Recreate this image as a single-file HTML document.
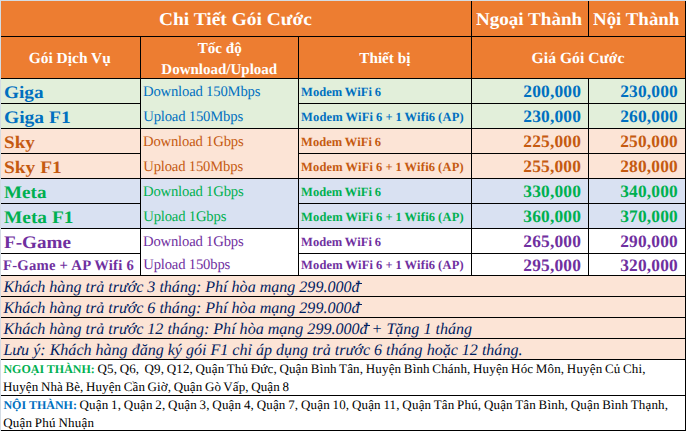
<!DOCTYPE html><html><head><meta charset="utf-8"><title>Bảng giá</title><style>
html,body{margin:0;padding:0;background:#fff}body{width:686px;height:431px;position:relative;overflow:hidden;font-family:'Liberation Serif','Times New Roman',serif;text-rendering:geometricPrecision}
.r{position:absolute}.t{position:absolute;white-space:nowrap;line-height:40px;height:40px}
</style></head><body>
<div class="r" style="left:0px;top:0px;width:686px;height:1px;background:#D4DCE4"></div>
<div class="r" style="left:0px;top:0px;width:1px;height:431px;background:#D4DCE4"></div>
<div class="r" style="left:1px;top:1px;width:684px;height:77px;background:#ED7D31"></div>
<div class="r" style="left:1px;top:79px;width:684px;height:49px;background:#E2EFDA"></div>
<div class="r" style="left:1px;top:129px;width:684px;height:49px;background:#FCE4D6"></div>
<div class="r" style="left:1px;top:179px;width:684px;height:49px;background:#D9E1F2"></div>
<div class="r" style="left:1px;top:276px;width:684px;height:83px;background:#FCE4D6"></div>
<div class="r" style="left:1px;top:36px;width:685px;height:1px;background:#000000"></div>
<div class="r" style="left:1px;top:78px;width:685px;height:1px;background:#000000"></div>
<div class="r" style="left:1px;top:103px;width:140px;height:1px;background:#000000"></div>
<div class="r" style="left:298px;top:103px;width:388px;height:1px;background:#000000"></div>
<div class="r" style="left:1px;top:128px;width:685px;height:1px;background:#000000"></div>
<div class="r" style="left:1px;top:153px;width:140px;height:1px;background:#000000"></div>
<div class="r" style="left:298px;top:153px;width:388px;height:1px;background:#000000"></div>
<div class="r" style="left:1px;top:178px;width:685px;height:1px;background:#000000"></div>
<div class="r" style="left:1px;top:203px;width:140px;height:1px;background:#000000"></div>
<div class="r" style="left:298px;top:203px;width:388px;height:1px;background:#000000"></div>
<div class="r" style="left:1px;top:228px;width:685px;height:1px;background:#000000"></div>
<div class="r" style="left:1px;top:253px;width:140px;height:1px;background:#000000"></div>
<div class="r" style="left:298px;top:253px;width:388px;height:1px;background:#000000"></div>
<div class="r" style="left:1px;top:275px;width:685px;height:1px;background:#000000"></div>
<div class="r" style="left:1px;top:296px;width:685px;height:1px;background:#000000"></div>
<div class="r" style="left:1px;top:317px;width:685px;height:1px;background:#000000"></div>
<div class="r" style="left:1px;top:338px;width:685px;height:1px;background:#000000"></div>
<div class="r" style="left:1px;top:359px;width:685px;height:1px;background:#000000"></div>
<div class="r" style="left:1px;top:395px;width:685px;height:1px;background:#000000"></div>
<div class="r" style="left:1px;top:430px;width:685px;height:1px;background:#000000"></div>
<div class="r" style="left:140px;top:36px;width:1px;height:240px;background:#000000"></div>
<div class="r" style="left:298px;top:36px;width:1px;height:240px;background:#000000"></div>
<div class="r" style="left:471px;top:1px;width:1px;height:275px;background:#000000"></div>
<div class="r" style="left:588px;top:1px;width:1px;height:36px;background:#000000"></div>
<div class="r" style="left:588px;top:78px;width:1px;height:198px;background:#000000"></div>
<div class="r" style="left:685px;top:1px;width:1px;height:430px;background:#000000"></div>
<div class="t" style="left:159.38px;top:-1.00px;color:#fff;font-size:18.10px;font-weight:bold;transform:scaleX(1.0734);transform-origin:0 0;">Chi Tiết Gói Cước</div>
<div class="t" style="left:475.58px;top:-1.00px;color:#fff;font-size:18.10px;font-weight:bold;transform:scaleX(1.0539);transform-origin:0 0;">Ngoại Thành</div>
<div class="t" style="left:592.98px;top:-1.00px;color:#fff;font-size:18.10px;font-weight:bold;transform:scaleX(1.0451);transform-origin:0 0;">Nội Thành</div>
<div class="t" style="left:28.77px;top:38.60px;color:#fff;font-size:15.43px;font-weight:bold;">Gói Dịch Vụ</div>
<div class="t" style="left:197.68px;top:29.20px;color:#fff;font-size:15.12px;font-weight:bold;">Tốc độ</div>
<div class="t" style="left:161.35px;top:50.20px;color:#fff;font-size:15.01px;font-weight:bold;">Download/Upload</div>
<div class="t" style="left:359.27px;top:39.30px;color:#fff;font-size:15.23px;font-weight:bold;">Thiết bị</div>
<div class="t" style="left:531.62px;top:39.00px;color:#fff;font-size:15.67px;font-weight:bold;">Giá Gói Cước</div>
<div class="t" style="left:3.98px;top:72.00px;color:#0070C0;font-size:17.60px;font-weight:bold;transform:scaleX(1.0937);transform-origin:0 0;">Giga</div>
<div class="t" style="left:143.00px;top:72.00px;color:#0070C0;font-size:14.67px;letter-spacing:-0.180px;">Download 150Mbps</div>
<div class="t" style="left:301.02px;top:71.60px;color:#0070C0;font-size:12.50px;font-weight:bold;letter-spacing:0.073px;word-spacing:-0.500px;">Modem WiFi 6</div>
<div class="t" style="left:523.33px;top:71.00px;color:#0070C0;font-size:17.40px;font-weight:bold;letter-spacing:0.175px;">200,000</div>
<div class="t" style="left:620.23px;top:71.00px;color:#0070C0;font-size:17.40px;font-weight:bold;letter-spacing:0.175px;">230,000</div>
<div class="t" style="left:3.92px;top:97.00px;color:#0070C0;font-size:17.60px;font-weight:bold;transform:scaleX(1.1094);transform-origin:0 0;">Giga F1</div>
<div class="t" style="left:143.25px;top:97.00px;color:#0070C0;font-size:14.67px;letter-spacing:-0.180px;">Upload 150Mbps</div>
<div class="t" style="left:301.00px;top:96.60px;color:#0070C0;font-size:12.50px;font-weight:bold;letter-spacing:0.206px;word-spacing:-0.500px;">Modem WiFi 6 + 1 Wifi6 (AP)</div>
<div class="t" style="left:523.33px;top:96.00px;color:#0070C0;font-size:17.40px;font-weight:bold;letter-spacing:0.175px;">230,000</div>
<div class="t" style="left:620.23px;top:96.00px;color:#0070C0;font-size:17.40px;font-weight:bold;letter-spacing:0.175px;">260,000</div>
<div class="t" style="left:3.93px;top:122.00px;color:#C55A11;font-size:17.60px;font-weight:bold;transform:scaleX(1.0881);transform-origin:0 0;">Sky</div>
<div class="t" style="left:143.00px;top:122.00px;color:#C55A11;font-size:14.67px;letter-spacing:-0.180px;">Download 1Gbps</div>
<div class="t" style="left:301.02px;top:121.60px;color:#C55A11;font-size:12.50px;font-weight:bold;letter-spacing:0.073px;word-spacing:-0.500px;">Modem WiFi 6</div>
<div class="t" style="left:523.33px;top:121.00px;color:#C55A11;font-size:17.40px;font-weight:bold;letter-spacing:0.175px;">225,000</div>
<div class="t" style="left:620.23px;top:121.00px;color:#C55A11;font-size:17.40px;font-weight:bold;letter-spacing:0.175px;">250,000</div>
<div class="t" style="left:3.98px;top:147.00px;color:#C55A11;font-size:17.60px;font-weight:bold;transform:scaleX(1.1050);transform-origin:0 0;">Sky F1</div>
<div class="t" style="left:143.25px;top:147.00px;color:#C55A11;font-size:14.67px;letter-spacing:-0.180px;">Upload 150Mbps</div>
<div class="t" style="left:301.00px;top:146.60px;color:#C55A11;font-size:12.50px;font-weight:bold;letter-spacing:0.206px;word-spacing:-0.500px;">Modem WiFi 6 + 1 Wifi6 (AP)</div>
<div class="t" style="left:523.33px;top:146.00px;color:#C55A11;font-size:17.40px;font-weight:bold;letter-spacing:0.175px;">255,000</div>
<div class="t" style="left:620.23px;top:146.00px;color:#C55A11;font-size:17.40px;font-weight:bold;letter-spacing:0.175px;">280,000</div>
<div class="t" style="left:4.20px;top:172.00px;color:#00B050;font-size:17.60px;font-weight:bold;transform:scaleX(1.0870);transform-origin:0 0;">Meta</div>
<div class="t" style="left:143.00px;top:172.00px;color:#00B050;font-size:14.67px;letter-spacing:-0.180px;">Download 1Gbps</div>
<div class="t" style="left:301.02px;top:171.60px;color:#00B050;font-size:12.50px;font-weight:bold;letter-spacing:0.073px;word-spacing:-0.500px;">Modem WiFi 6</div>
<div class="t" style="left:523.33px;top:171.00px;color:#00B050;font-size:17.40px;font-weight:bold;letter-spacing:0.175px;">330,000</div>
<div class="t" style="left:620.23px;top:171.00px;color:#00B050;font-size:17.40px;font-weight:bold;letter-spacing:0.175px;">340,000</div>
<div class="t" style="left:4.23px;top:197.00px;color:#00B050;font-size:17.60px;font-weight:bold;transform:scaleX(1.1020);transform-origin:0 0;">Meta F1</div>
<div class="t" style="left:143.25px;top:197.00px;color:#00B050;font-size:14.67px;letter-spacing:-0.180px;">Upload 1Gbps</div>
<div class="t" style="left:301.00px;top:196.60px;color:#00B050;font-size:12.50px;font-weight:bold;letter-spacing:0.206px;word-spacing:-0.500px;">Modem WiFi 6 + 1 Wifi6 (AP)</div>
<div class="t" style="left:523.33px;top:196.00px;color:#00B050;font-size:17.40px;font-weight:bold;letter-spacing:0.175px;">360,000</div>
<div class="t" style="left:620.23px;top:196.00px;color:#00B050;font-size:17.40px;font-weight:bold;letter-spacing:0.175px;">370,000</div>
<div class="t" style="left:4.23px;top:222.00px;color:#7030A0;font-size:17.60px;font-weight:bold;transform:scaleX(1.0872);transform-origin:0 0;">F-Game</div>
<div class="t" style="left:143.00px;top:222.00px;color:#7030A0;font-size:14.67px;letter-spacing:-0.180px;">Download 1Gbps</div>
<div class="t" style="left:301.02px;top:221.60px;color:#7030A0;font-size:12.50px;font-weight:bold;letter-spacing:0.073px;word-spacing:-0.500px;">Modem WiFi 6</div>
<div class="t" style="left:523.33px;top:221.00px;color:#7030A0;font-size:17.40px;font-weight:bold;letter-spacing:0.175px;">265,000</div>
<div class="t" style="left:620.23px;top:221.00px;color:#7030A0;font-size:17.40px;font-weight:bold;letter-spacing:0.175px;">290,000</div>
<div class="t" style="left:2.97px;top:246.00px;color:#7030A0;font-size:14.67px;font-weight:bold;letter-spacing:0.244px;">F-Game + AP Wifi 6</div>
<div class="t" style="left:143.25px;top:245.00px;color:#7030A0;font-size:14.67px;letter-spacing:-0.180px;">Upload 150bps</div>
<div class="t" style="left:301.00px;top:245.00px;color:#7030A0;font-size:12.50px;font-weight:bold;letter-spacing:0.206px;word-spacing:-0.500px;">Modem WiFi 6 + 1 Wifi6 (AP)</div>
<div class="t" style="left:523.33px;top:244.50px;color:#7030A0;font-size:17.40px;font-weight:bold;letter-spacing:0.175px;">295,000</div>
<div class="t" style="left:620.23px;top:244.50px;color:#7030A0;font-size:17.40px;font-weight:bold;letter-spacing:0.175px;">320,000</div>
<div class="t" style="left:3.45px;top:268.00px;color:#002060;font-size:16.06px;font-style:italic;">Khách hàng trả trước 3 tháng: Phí hòa mạng 299.000<span style="position:relative">đ<u style="position:absolute;left:4.0px;bottom:12.4px;width:6.2px;height:1px;background:#002060"></u></span></div>
<div class="t" style="left:3.45px;top:289.00px;color:#002060;font-size:16.06px;font-style:italic;">Khách hàng trả trước 6 tháng: Phí hòa mạng 299.000<span style="position:relative">đ<u style="position:absolute;left:4.0px;bottom:12.4px;width:6.2px;height:1px;background:#002060"></u></span></div>
<div class="t" style="left:3.45px;top:310.00px;color:#002060;font-size:16.06px;font-style:italic;">Khách hàng trả trước 12 tháng: Phí hòa mạng 299.000<span style="position:relative">đ<u style="position:absolute;left:4.0px;bottom:12.4px;width:6.2px;height:1px;background:#002060"></u></span> + Tặng 1 tháng</div>
<div class="t" style="left:3.45px;top:331.00px;color:#002060;font-size:16.06px;font-style:italic;">Lưu ý: Khách hàng đăng ký gói F1 chỉ áp dụng trả trước 6 tháng hoặc 12 tháng.</div>
<div class="t" style="left:3.40px;top:349.10px;color:#000;font-size:13.00px;letter-spacing:0.156px;word-spacing:-0.800px;"><b style="color:#00B050;font-size:12px;letter-spacing:0;word-spacing:0">NGOẠI THÀNH:</b> Q5, Q6,&nbsp; Q9, Q12, Quận Thủ Đức, Quận Bình Tân, Huyện Bình Chánh, Huyện Hóc Môn, Huyện Củ Chi,</div>
<div class="t" style="left:3.12px;top:367.20px;color:#000;font-size:13.00px;letter-spacing:0.110px;word-spacing:-0.800px;">Huyện Nhà Bè, Huyện Cần Giờ, Quận Gò Vấp, Quận 8</div>
<div class="t" style="left:3.45px;top:385.30px;color:#000;font-size:13.00px;letter-spacing:0.184px;word-spacing:-0.800px;"><b style="color:#0070C0;font-size:12px;letter-spacing:0;word-spacing:0">NỘI THÀNH:</b> Quận 1, Quận 2, Quận 3, Quận 4, Quận 7, Quận 10, Quận 11, Quận Tân Phú, Quận Tân Bình, Quận Bình Thạnh,</div>
<div class="t" style="left:3.20px;top:403.00px;color:#000;font-size:13.00px;letter-spacing:0.212px;word-spacing:-0.800px;">Quận Phú Nhuận</div>
</body></html>
